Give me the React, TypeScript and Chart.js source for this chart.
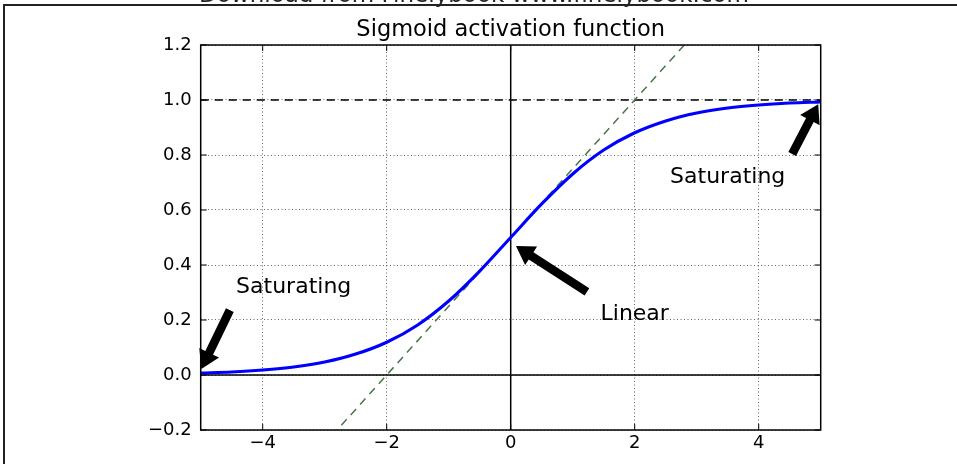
import React, { useEffect, useRef } from "react";
import { Chart, registerables } from "chart.js";

Chart.register(...registerables);

const headerText = "Download from Finelybook www.finelybook.com";
const titleText = "Sigmoid activation function";

const sigmoidX = [-5, -4.5, -4, -3.5, -3, -2.5, -2, -1.5, -1, -0.5, 0, 0.5, 1, 1.5, 2, 2.5, 3, 3.5, 4, 4.5, 5];
const sigmoidY = [0.007, 0.011, 0.018, 0.029, 0.047, 0.076, 0.119, 0.182, 0.269, 0.378, 0.5, 0.622, 0.731, 0.818, 0.881, 0.924, 0.953, 0.971, 0.982, 0.989, 0.993];

const guideX = [-5, 5];
const tangentY = [-0.75, 1.75];
const asymptoteY = [1, 1];
const zeroLineY = [0, 0];
const vertLineX = [0, 0];
const vertLineY = [-0.2, 1.2];

const xTicks = [-4, -2, 0, 2, 4];
const yTicks = [-0.2, 0, 0.2, 0.4, 0.6, 0.8, 1.0, 1.2];

const annotationTexts = ["Saturating", "Saturating", "Linear"];
const annotationTextX = [-3.5, 3.5, 2];
const annotationTextY = [0.3, 0.7, 0.2];
const arrowTailX = [-4.53, 4.54, 1.23];
const arrowTailY = [0.236, 0.804, 0.302];
const arrowTipX = [-4.99, 4.96, 0.085];
const arrowTipY = [0.022, 0.985, 0.469];

const FONT = '"DejaVu Sans", sans-serif';

function fmtX(v: number) {
  if (Math.abs(v) < 1e-9) return "0";
  return v < 0 ? "\u2212" + Math.abs(v) : String(v);
}
function fmtY(v: number) {
  if (Math.abs(v) < 1e-9) return "0.0";
  return v < 0 ? "\u2212" + Math.abs(v).toFixed(1) : v.toFixed(1);
}

export default function App() {
  const ref = useRef<HTMLCanvasElement>(null);

  useEffect(() => {
    const canvas = ref.current!;
    const overlay = {
      id: "overlay",
      beforeDraw(chart: any) {
        const ctx = chart.ctx;
        const area = chart.chartArea;
        ctx.save();
        // header (cut off)
        ctx.fillStyle = "#222";
        ctx.font = `23px ${FONT}`;
        ctx.textAlign = "center";
        ctx.textBaseline = "alphabetic";
        ctx.fillText(headerText, 474, 2);
        // frame
        ctx.strokeStyle = "#222";
        ctx.lineWidth = 2;
        ctx.beginPath();
        ctx.moveTo(957, 5);
        ctx.lineTo(4, 5);
        ctx.lineTo(4, 464);
        ctx.stroke();
        // title
        ctx.fillStyle = "#000";
        ctx.font = `22.5px ${FONT}`;
        ctx.fillText(titleText, (area.left + area.right) / 2, 36);
        ctx.restore();
      },
      afterDraw(chart: any) {
        const ctx = chart.ctx;
        const area = chart.chartArea;
        const xs = chart.scales.x;
        const ys = chart.scales.y;
        ctx.save();
        // spines
        ctx.strokeStyle = "#000";
        ctx.lineWidth = 1.5;
        ctx.strokeRect(area.left, area.top, area.right - area.left, area.bottom - area.top);
        // inward ticks
        ctx.lineWidth = 1;
        ctx.beginPath();
        xTicks.forEach((v) => {
          const p = xs.getPixelForValue(v);
          ctx.moveTo(p, area.bottom);
          ctx.lineTo(p, area.bottom - 6);
          ctx.moveTo(p, area.top);
          ctx.lineTo(p, area.top + 6);
        });
        yTicks.forEach((v) => {
          const p = ys.getPixelForValue(v);
          ctx.moveTo(area.left, p);
          ctx.lineTo(area.left + 6, p);
          ctx.moveTo(area.right, p);
          ctx.lineTo(area.right - 6, p);
        });
        ctx.stroke();
        // arrows
        ctx.fillStyle = "#000";
        for (let i = 0; i < arrowTailX.length; i++) {
          const x0 = xs.getPixelForValue(arrowTailX[i]);
          const y0 = ys.getPixelForValue(arrowTailY[i]);
          const x1 = xs.getPixelForValue(arrowTipX[i]);
          const y1 = ys.getPixelForValue(arrowTipY[i]);
          const L = Math.hypot(x1 - x0, y1 - y0);
          const dx = (x1 - x0) / L, dy = (y1 - y0) / L;
          const nx = -dy, ny = dx;
          const hl = 18, hw = 11, sw = 4.3;
          const bx = x1 - dx * hl, by = y1 - dy * hl;
          ctx.beginPath();
          ctx.moveTo(x0 + nx * sw, y0 + ny * sw);
          ctx.lineTo(bx + nx * sw, by + ny * sw);
          ctx.lineTo(bx + nx * hw, by + ny * hw);
          ctx.lineTo(x1, y1);
          ctx.lineTo(bx - nx * hw, by - ny * hw);
          ctx.lineTo(bx - nx * sw, by - ny * sw);
          ctx.lineTo(x0 - nx * sw, y0 - ny * sw);
          ctx.closePath();
          ctx.fill();
        }
        // annotation texts
        ctx.fillStyle = "#000";
        ctx.font = `22px ${FONT}`;
        ctx.textAlign = "center";
        ctx.textBaseline = "alphabetic";
        for (let i = 0; i < annotationTexts.length; i++) {
          ctx.fillText(
            annotationTexts[i],
            xs.getPixelForValue(annotationTextX[i]),
            ys.getPixelForValue(annotationTextY[i])
          );
        }
        ctx.restore();
      },
    };

    const chart = new Chart(canvas, {
      type: "line",
      data: {
        datasets: [
          {
            label: "sigmoid",
            data: sigmoidX.map((x, i) => ({ x, y: sigmoidY[i] })),
            borderColor: "#0000ff",
            borderWidth: 3.1,
            pointRadius: 0,
            cubicInterpolationMode: "monotone",
            order: 0,
          },
          {
            label: "tangent",
            data: guideX.map((x, i) => ({ x, y: tangentY[i] })),
            borderColor: "#4a754a",
            borderWidth: 1.5,
            borderDash: [8, 6],
            pointRadius: 0,
            clip: 0,
            order: 1,
          },
          {
            label: "vertical",
            data: vertLineX.map((x, i) => ({ x, y: vertLineY[i] })),
            borderColor: "#000",
            borderWidth: 1.5,
            pointRadius: 0,
            order: 2,
          },
          {
            label: "asymptote",
            data: guideX.map((x, i) => ({ x, y: asymptoteY[i] })),
            borderColor: "#000",
            borderWidth: 1.5,
            borderDash: [8, 6],
            pointRadius: 0,
            order: 3,
          },
          {
            label: "zero",
            data: guideX.map((x, i) => ({ x, y: zeroLineY[i] })),
            borderColor: "#000",
            borderWidth: 1.5,
            pointRadius: 0,
            order: 4,
          },
        ],
      },
      options: {
        animation: false,
        responsive: false,
        devicePixelRatio: 1,
        events: [],
        layout: { padding: { left: 0, right: 136.3, top: 45, bottom: 0 } },
        plugins: {
          legend: { display: false },
          tooltip: { enabled: false },
          title: { display: false },
        },
        scales: {
          x: {
            type: "linear",
            min: -5,
            max: 5,
            afterBuildTicks: (s: any) => {
              s.ticks = xTicks.map((v) => ({ value: v }));
            },
            afterFit: (s: any) => {
              s.height = 34;
            },
            grid: { color: "rgba(0,0,0,0.6)", lineWidth: 1, drawTicks: false },
            border: { display: false, dash: [1, 2.5] },
            ticks: {
              color: "#000",
              font: { family: "DejaVu Sans", size: 18 },
              padding: 3,
              maxRotation: 0,
              callback: (v: any) => fmtX(Number(v)),
            },
          },
          y: {
            type: "linear",
            min: -0.2,
            max: 1.2,
            afterBuildTicks: (s: any) => {
              s.ticks = yTicks.map((v) => ({ value: v }));
            },
            afterFit: (s: any) => {
              s.width = 200.7;
            },
            grid: { color: "rgba(0,0,0,0.6)", lineWidth: 1, drawTicks: false },
            border: { display: false, dash: [1, 2.5] },
            ticks: {
              color: "#000",
              font: { family: "DejaVu Sans", size: 18 },
              padding: 9,
              callback: (v: any) => fmtY(Number(v)),
            },
          },
        },
      },
      plugins: [overlay],
    } as any);

    return () => chart.destroy();
  }, []);

  return (
    <div style={{ position: "fixed", left: 0, top: 0, width: 957, height: 464, background: "#fff" }}>
      <canvas ref={ref} width={957} height={464} style={{ width: 957, height: 464, display: "block" }} />
    </div>
  );
}
